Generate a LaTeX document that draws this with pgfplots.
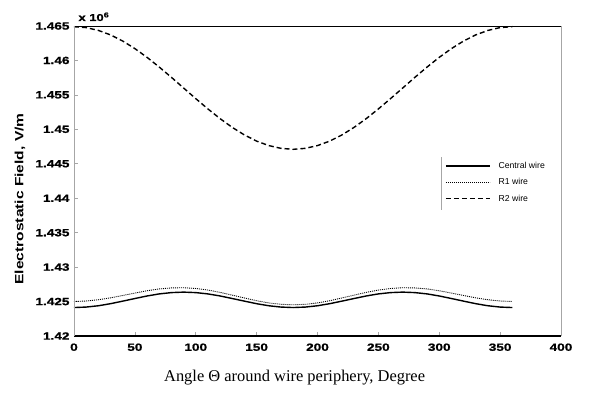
\documentclass[border=0pt]{standalone}
\usepackage{pgfplots}
\pgfplotsset{compat=1.18}
\usepackage{pgfplotstable}
\usepackage{fontspec}
\setmainfont{Liberation Serif}
\newfontfamily\widebold[FakeStretch=1.3, FakeBold=1.2]{Liberation Sans Bold}
\newfontfamily\labelbold[FakeStretch=1.3]{Liberation Sans Bold}
\newfontfamily\plainsans{Liberation Sans}

% Field on the wire surface versus angle (values in 10^6 V/m)
\pgfplotstableread{
theta central r1 r2
0   1.42413 1.42501 1.46490
10  1.42420 1.42508 1.46477
20  1.42439 1.42526 1.46436
30  1.42469 1.42554 1.46371
40  1.42506 1.42588 1.46282
50  1.42544 1.42623 1.46172
60  1.42581 1.42657 1.46045
70  1.42611 1.42683 1.45904
80  1.42630 1.42698 1.45755
90  1.42637 1.42701 1.45600
100 1.42630 1.42690 1.45446
110 1.42611 1.42667 1.45296
120 1.42581 1.42633 1.45155
130 1.42544 1.42593 1.45028
140 1.42506 1.42552 1.44918
150 1.42469 1.42512 1.44829
160 1.42439 1.42480 1.44764
170 1.42420 1.42460 1.44724
180 1.42413 1.42453 1.44710
190 1.42420 1.42460 1.44724
200 1.42439 1.42480 1.44764
210 1.42469 1.42512 1.44829
220 1.42506 1.42552 1.44918
230 1.42544 1.42593 1.45028
240 1.42581 1.42633 1.45155
250 1.42611 1.42667 1.45296
260 1.42630 1.42690 1.45446
270 1.42637 1.42701 1.45600
280 1.42630 1.42698 1.45755
290 1.42611 1.42683 1.45904
300 1.42581 1.42657 1.46045
310 1.42544 1.42623 1.46172
320 1.42506 1.42588 1.46282
330 1.42469 1.42554 1.46371
340 1.42439 1.42526 1.46436
350 1.42420 1.42508 1.46477
360 1.42413 1.42501 1.46490
}\fielddata

\begin{document}
\begin{tikzpicture}
\begin{axis}[
  scale only axis,
  width=487bp, height=310bp,
  xmin=0, xmax=400, ymin=1.42, ymax=1.465,
  xtick={0,50,...,400},
  ytick={1.42,1.425,...,1.4651},
  clip=false,
  axis line style={draw=none},
  tick pos=left,
  tick align=inside,
  major tick length=4bp,
  tick style={gray!70, line width=0.6bp},
  /pgf/number format/assume math mode=true,
  yticklabel style={/pgf/number format/fixed, /pgf/number format/precision=3,
    font=\widebold\fontsize{10.5}{12}\selectfont, xshift=-1bp},
  xticklabel style={/pgf/number format/fixed,
    font=\widebold\fontsize{10.5}{12}\selectfont, yshift=-4bp},
  scaled y ticks=false,
  xlabel={Angle Θ around wire periphery, Degree},
  xlabel style={font=\fontsize{16.5}{18}\selectfont, at={(rel axis cs:0.453,0)},
    anchor=center, yshift=-42bp},
  ylabel={Electrostatic Field, V/m},
  ylabel style={font=\labelbold\fontsize{12}{14}\selectfont,
    at={(rel axis cs:0,0.442)}, anchor=center, yshift=54bp},
  legend style={draw=none, fill=none, at={(rel axis cs:0.7536,0.5774)},
    anchor=north west, font=\plainsans\fontsize{8.7}{10}\selectfont,
    row sep=4.5bp, column sep=6bp, inner xsep=0bp, inner ysep=3bp},
  legend cell align=left,
  legend image code/.code={\path (0bp,0bp); \draw[#1] (4bp,0bp) -- (48bp,0bp);},
]
\addplot[black, line width=1.4bp] table[x=theta, y=central] {\fielddata};
\addlegendentry{Central wire}
\addplot[black, line width=0.9bp, dash pattern=on 1bp off 1bp] table[x=theta, y=r1] {\fielddata};
\addlegendentry{R1 wire}
\addplot[black, line width=1.4bp, dash pattern=on 5bp off 3bp] table[x=theta, y=r2] {\fielddata};
\addlegendentry{R2 wire}

% frame: heavy bottom, black top, light sides
\draw[black, line width=1.8bp] (rel axis cs:0,0) -- (rel axis cs:1,0);
\draw[black, line width=0.8bp] (rel axis cs:0,1) -- (rel axis cs:1,1);
\draw[gray!70, line width=0.7bp] (rel axis cs:0,0) -- (rel axis cs:0,1);
\draw[gray!70, line width=0.7bp] (rel axis cs:1,0) -- (rel axis cs:1,1);
% legend edge
\draw[gray!70, line width=0.6bp] (rel axis cs:0.7536,0.5774) -- (rel axis cs:0.7536,0.4065);
\end{axis}
\node[anchor=base west, font=\widebold\fontsize{10}{12}\selectfont]
  at ([xshift=1bp,yshift=5bp]current axis.north west) {x 10\textsuperscript{6}};
\pgfresetboundingbox
\path[use as bounding box] ([xshift=-74bp,yshift=-58bp]current axis.south west)
  rectangle ([xshift=34bp,yshift=26bp]current axis.north east);
\end{tikzpicture}
\end{document}
